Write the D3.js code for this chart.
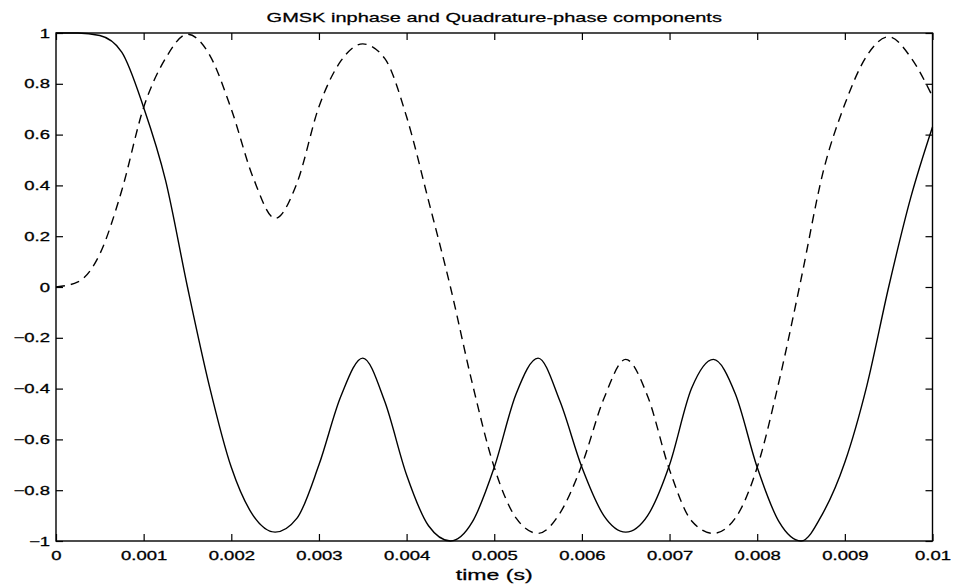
<!DOCTYPE html>
<html><head><meta charset="utf-8">
<script src="https://cdn.jsdelivr.net/npm/d3@7"></script>
<style>body{margin:0;background:#fff}</style>
</head><body><svg id="c" width="953" height="588"></svg>
<script>
// time samples (s)
const time = [0,0.00025,0.0005,0.00075,0.001,0.00125,0.0015,0.00175,0.002,0.00225,
  0.0025,0.00275,0.003,0.00325,0.0035,0.00375,0.004,0.00425,0.0045,0.00475,
  0.005,0.00525,0.0055,0.00575,0.006,0.00625,0.0065,0.00675,0.007,0.00725,
  0.0075,0.00775,0.008,0.00825,0.0085,0.00875,0.009,0.00925,0.0095,0.00975,0.01];
// in-phase component (solid)
const inphase = [1.0,1.0,0.99,0.925,0.707,0.42,0.0,-0.39,-0.71,-0.90,
  -0.965,-0.91,-0.70,-0.43,-0.28,-0.45,-0.74,-0.94,-1.0,-0.925,
  -0.71,-0.42,-0.28,-0.45,-0.71,-0.90,-0.965,-0.90,-0.70,-0.40,
  -0.285,-0.42,-0.71,-0.925,-1.0,-0.89,-0.69,-0.39,0.0,0.35,0.63];
// quadrature-phase component (dashed)
const quadrature = [0.0,0.02,0.13,0.38,0.707,0.90,0.995,0.915,0.70,0.43,
  0.27,0.41,0.71,0.89,0.957,0.90,0.67,0.34,0.0,-0.38,
  -0.71,-0.91,-0.97,-0.89,-0.70,-0.44,-0.285,-0.43,-0.72,-0.92,
  -0.97,-0.91,-0.71,-0.37,0.03,0.45,0.72,0.91,0.985,0.905,0.75];
const xTicks = [0,0.001,0.002,0.003,0.004,0.005,0.006,0.007,0.008,0.009,0.01];
const yTicks = [-1,-0.8,-0.6,-0.4,-0.2,0,0.2,0.4,0.6,0.8,1];
const titleText = "GMSK inphase and Quadrature-phase components";
const xLabelText = "time (s)";

const svg = d3.select("#c");
const L = 56, R = 932.5, T = 33, B = 541;
const x = d3.scaleLinear().domain([0, 0.01]).range([L, R]);
const y = d3.scaleLinear().domain([-1, 1]).range([B, T]);
const FONT = "'Liberation Sans', Arial, Helvetica, sans-serif";
const SX = 1.48;

function stretch(sel, k) {
  sel.each(function () {
    const t = d3.select(this);
    const tx = +t.attr("x") || 0, ty = +t.attr("y") || 0;
    t.attr("x", 0).attr("y", 0).attr("transform", `translate(${tx},${ty}) scale(${k},1)`);
  });
}
const fmt = d3.format("~g");

function styleAxis(g, labels) {
  g.select(".domain").remove();
  g.selectAll(".tick line").attr("stroke", "#000").attr("stroke-width", 1.2);
  g.selectAll(".tick text").attr("fill", "#000").attr("font-family", FONT)
    .attr("font-size", 12.5).attr("stroke", "#000").attr("stroke-width", 0.3);
  if (labels) stretch(g.selectAll(".tick text"), SX);
}

const gb = svg.append("g").attr("transform", `translate(0,${B})`)
  .call(d3.axisBottom(x).tickValues(xTicks).tickFormat(fmt).tickSizeInner(-7).tickSizeOuter(0).tickPadding(10));
styleAxis(gb, true);
const gt = svg.append("g").attr("transform", `translate(0,${T})`)
  .call(d3.axisTop(x).tickValues(xTicks).tickFormat("").tickSizeInner(-7).tickSizeOuter(0));
styleAxis(gt, false);
const gl = svg.append("g").attr("transform", `translate(${L},0)`)
  .call(d3.axisLeft(y).tickValues(yTicks).tickFormat(fmt).tickSizeInner(-7).tickSizeOuter(0).tickPadding(6));
styleAxis(gl, true);
const gr = svg.append("g").attr("transform", `translate(${R},0)`)
  .call(d3.axisRight(y).tickValues(yTicks).tickFormat("").tickSizeInner(-7).tickSizeOuter(0));
styleAxis(gr, false);

svg.append("rect").attr("x", L).attr("y", T).attr("width", R - L).attr("height", B - T)
  .attr("fill", "none").attr("stroke", "#000").attr("stroke-width", 1.4);

const line = (vals) => d3.line().x((d, i) => x(time[i])).y(d => y(d)).curve(d3.curveMonotoneX)(vals);

svg.append("path").attr("d", line(quadrature)).attr("fill", "none").attr("stroke", "#000")
  .attr("stroke-width", 1.4).attr("stroke-dasharray", "9,6");
svg.append("path").attr("d", line(inphase)).attr("fill", "none").attr("stroke", "#000")
  .attr("stroke-width", 1.4);

const title = svg.append("text").attr("x", (L + R) / 2).attr("y", 22).attr("text-anchor", "middle")
  .attr("font-family", FONT).attr("font-size", 13.5).attr("fill", "#000")
  .attr("stroke", "#000").attr("stroke-width", 0.25).text(titleText);
stretch(title, SX);
const xl = svg.append("text").attr("x", (L + R) / 2).attr("y", 580).attr("text-anchor", "middle")
  .attr("font-family", FONT).attr("font-size", 14).attr("fill", "#000")
  .attr("stroke", "#000").attr("stroke-width", 0.25).text(xLabelText);
stretch(xl, 1.65);
</script>
</body></html>
